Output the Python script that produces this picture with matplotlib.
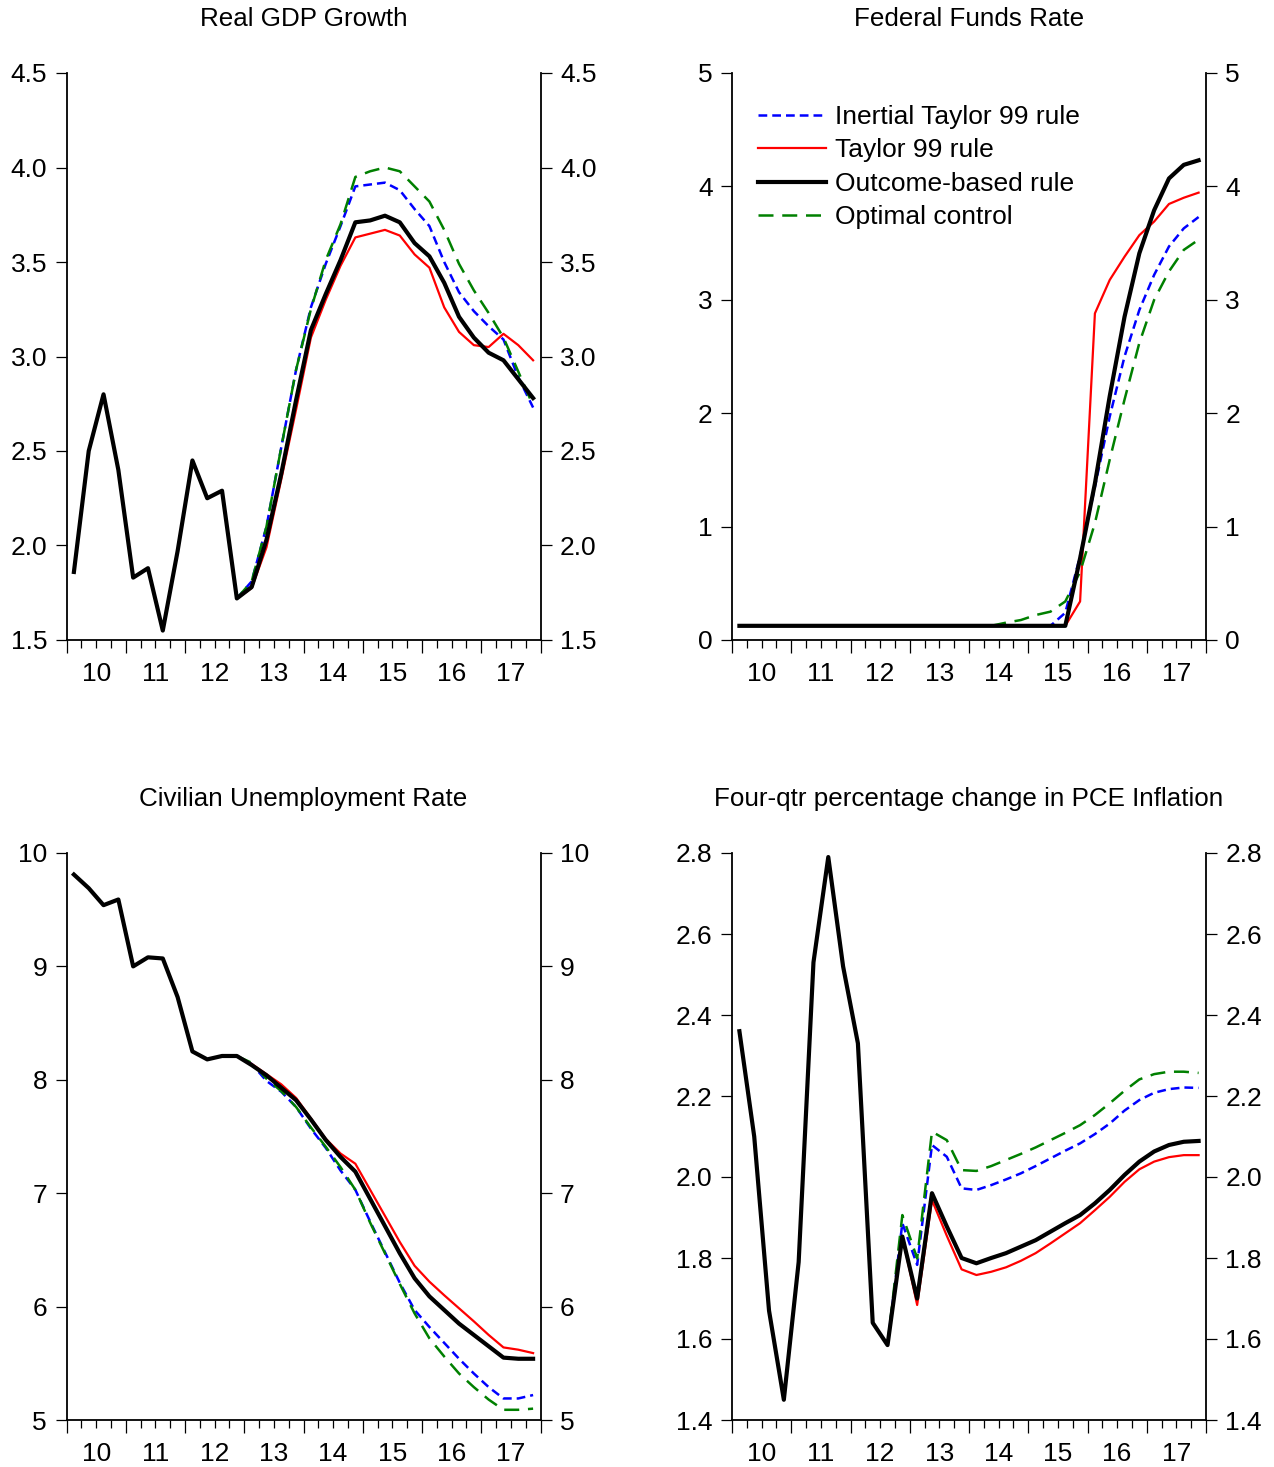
import numpy as np
import matplotlib
matplotlib.use("Agg")
import matplotlib.pyplot as plt
from matplotlib.ticker import FuncFormatter, NullFormatter, FormatStrFormatter

plt.rcParams['font.family'] = ['Liberation Sans', 'DejaVu Sans']

# quarters 2010Q1 .. 2017Q4, plotted at mid-quarter
n_qtr = 32
year_labels = ['10', '11', '12', '13', '14', '15', '16', '17']
series_names = ['Inertial Taylor 99 rule', 'Taylor 99 rule', 'Outcome-based rule', 'Optimal control']

# Real GDP growth
gdp_outcome = [1.86, 2.50, 2.80, 2.40, 1.83, 1.88, 1.55, 1.97, 2.45, 2.25, 2.29, 1.72,
               1.78, 2.03, 2.38, 2.77, 3.14, 3.33, 3.51, 3.71, 3.72, 3.745, 3.71, 3.60,
               3.53, 3.39, 3.21, 3.10, 3.02, 2.98, 2.88, 2.78]
gdp_start = 11
gdp_inertial = [1.72, 1.81, 2.10, 2.52, 2.93, 3.26, 3.49, 3.69, 3.90, 3.91, 3.92, 3.88,
                3.78, 3.69, 3.50, 3.34, 3.24, 3.16, 3.09, 2.89, 2.73]
gdp_taylor = [1.72, 1.775, 1.99, 2.35, 2.72, 3.10, 3.30, 3.48, 3.63, 3.65, 3.67, 3.64,
              3.54, 3.47, 3.26, 3.13, 3.06, 3.05, 3.12, 3.06, 2.98]
gdp_optimal = [1.72, 1.81, 2.10, 2.52, 2.93, 3.25, 3.51, 3.70, 3.95, 3.98, 4.00, 3.98,
               3.90, 3.82, 3.67, 3.49, 3.35, 3.23, 3.10, 2.92, 2.74]

# Federal funds rate
ffr_outcome = [0.125, 0.125, 0.125, 0.125, 0.125, 0.125, 0.125, 0.125, 0.125, 0.125,
               0.125, 0.125, 0.125, 0.125, 0.125, 0.125, 0.125, 0.125, 0.125, 0.125,
               0.125, 0.125, 0.125, 0.72, 1.38, 2.15, 2.85, 3.41, 3.79, 4.07, 4.19, 4.23]
ffr_start = 17
ffr_inertial = [0.125, 0.125, 0.125, 0.125, 0.125, 0.24, 0.74, 1.35, 1.97, 2.50, 2.91,
                3.22, 3.47, 3.63, 3.73]
ffr_taylor = [0.125, 0.125, 0.125, 0.125, 0.125, 0.125, 0.34, 2.88, 3.175, 3.38, 3.57,
              3.69, 3.845, 3.90, 3.945]
ffr_optimal = [0.125, 0.153, 0.176, 0.22, 0.25, 0.34, 0.60, 1.03, 1.59, 2.12, 2.62,
               3.00, 3.25, 3.44, 3.53]

# Civilian unemployment rate
ur_outcome = [9.81, 9.69, 9.54, 9.59, 9.00, 9.08, 9.07, 8.73, 8.25, 8.18, 8.21, 8.21,
              8.13, 8.04, 7.93, 7.82, 7.65, 7.47, 7.32, 7.19, 6.95, 6.71, 6.47, 6.25,
              6.09, 5.97, 5.85, 5.75, 5.65, 5.55, 5.54, 5.54]
ur_start = 11
ur_inertial = [8.21, 8.14, 7.99, 7.895, 7.76, 7.57, 7.40, 7.20, 7.03, 6.75, 6.48, 6.21,
               5.97, 5.82, 5.68, 5.54, 5.41, 5.29, 5.19, 5.19, 5.22]
ur_taylor = [8.21, 8.14, 8.05, 7.96, 7.84, 7.66, 7.48, 7.35, 7.26, 7.03, 6.80, 6.57,
             6.36, 6.22, 6.10, 5.985, 5.87, 5.75, 5.64, 5.62, 5.59]
ur_optimal = [8.21, 8.15, 8.01, 7.90, 7.76, 7.58, 7.41, 7.23, 7.03, 6.74, 6.47, 6.20,
              5.94, 5.72, 5.56, 5.41, 5.29, 5.18, 5.09, 5.09, 5.10]

# Four-quarter PCE inflation
pce_outcome = [2.36, 2.10, 1.67, 1.45, 1.79, 2.53, 2.79, 2.52, 2.33, 1.64, 1.585, 1.853,
               1.70, 1.96, 1.878, 1.80, 1.787, 1.80, 1.812, 1.828, 1.844, 1.865, 1.886,
               1.906, 1.935, 1.968, 2.005, 2.038, 2.063, 2.079, 2.087, 2.089]
pce_start = 10
pce_inertial = [1.585, 1.886, 1.783, 2.079, 2.05, 1.972, 1.968, 1.98, 1.994, 2.009, 2.027,
                2.046, 2.065, 2.083, 2.106, 2.132, 2.164, 2.19, 2.208, 2.217, 2.221, 2.22]
pce_taylor = [1.585, 1.853, 1.684, 1.943, 1.855, 1.772, 1.758, 1.766, 1.777, 1.793, 1.812,
              1.836, 1.861, 1.886, 1.918, 1.951, 1.988, 2.019, 2.038, 2.049, 2.054, 2.054]
pce_optimal = [1.585, 1.906, 1.799, 2.112, 2.091, 2.017, 2.015, 2.027, 2.042, 2.057, 2.073,
               2.091, 2.109, 2.128, 2.153, 2.182, 2.213, 2.241, 2.254, 2.26, 2.26, 2.257]

panels = [
    ("Real GDP Growth", gdp_outcome, gdp_start, gdp_inertial, gdp_taylor, gdp_optimal,
     (1.5, 4.5), np.arange(1.5, 4.51, 0.5), "%.1f"),
    ("Federal Funds Rate", ffr_outcome, ffr_start, ffr_inertial, ffr_taylor, ffr_optimal,
     (0, 5), np.arange(0, 6, 1), "%d"),
    ("Civilian Unemployment Rate", ur_outcome, ur_start, ur_inertial, ur_taylor, ur_optimal,
     (5, 10), np.arange(5, 11, 1), "%d"),
    ("Four-qtr percentage change in PCE Inflation", pce_outcome, pce_start, pce_inertial,
     pce_taylor, pce_optimal, (1.4, 2.8), np.arange(1.4, 2.81, 0.2), "%.1f"),
]

W, H = 1274, 1467
boxes = [(66.5, 73), (732, 73), (66.5, 853), (732, 853)]

fig = plt.figure(figsize=(W / 100, H / 100), dpi=100)
x = np.arange(n_qtr) + 0.5

def year_fmt(v, pos):
    q = int(round(v))
    return year_labels[q // 4] if q % 4 == 2 else ''

for k, (title, outcome, start, inertial, taylor, optimal, ylim, yticks, fmt) in enumerate(panels):
    l, t = boxes[k]
    ax = fig.add_axes([l / W, 1 - (t + 567) / H, 474 / W, 567 / H])
    xs = x[start:]
    ax.plot(xs, inertial, color='#0000ff', lw=1.8, dashes=(3.5, 2.0), zorder=2, label=series_names[0])
    ax.plot(xs, taylor, color='#ff0000', lw=1.6, zorder=2, label=series_names[1])
    ax.plot(x, outcome, color='black', lw=3.0, zorder=3, label=series_names[2])
    ax.plot(xs, optimal, color='#008000', lw=1.8, dashes=(6.0, 3.5), zorder=2, label=series_names[3])

    ax.set_xlim(0, n_qtr)
    ax.set_ylim(*ylim)
    ax.set_yticks(yticks)
    ax.yaxis.set_major_formatter(FormatStrFormatter(fmt))
    ax.set_xticks(range(0, n_qtr + 1, 4))
    ax.set_xticks([q for q in range(n_qtr + 1) if q % 4], minor=True)
    ax.xaxis.set_major_formatter(NullFormatter())
    ax.xaxis.set_minor_formatter(FuncFormatter(year_fmt))

    ax.spines['top'].set_visible(False)
    for s in ['left', 'right', 'bottom']:
        ax.spines[s].set_linewidth(1.3)
    ax.tick_params(axis='y', which='both', left=True, right=True, labelleft=True,
                   labelright=True, direction='out', length=8, width=0.9, pad=6, labelsize=19)
    ax.tick_params(axis='x', which='major', direction='out', length=9.5, width=0.9)
    ax.tick_params(axis='x', which='minor', direction='out', length=5.5, width=0.9,
                   pad=10.5, labelsize=19)
    ax.set_title(title, fontsize=18.7, pad=34)

    if k == 1:
        ax.legend(loc='upper left', bbox_to_anchor=(0.055, 0.944), frameon=False,
                  fontsize=19, handlelength=2.58, handletextpad=0.34, labelspacing=0.36,
                  borderpad=0, borderaxespad=0)

fig.savefig("out.png", dpi=100)
